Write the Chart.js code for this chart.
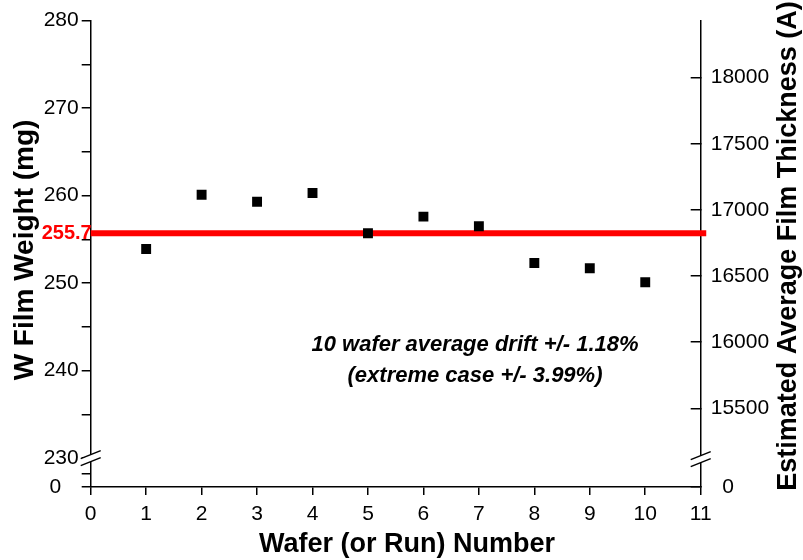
<!DOCTYPE html>
<html>
<head>
<meta charset="utf-8">
<script src="https://cdn.jsdelivr.net/npm/chart.js@4/dist/chart.umd.min.js"></script>
<style>
  html, body { margin: 0; padding: 0; background: #fff; }
  #wrap { width: 803px; height: 560px; position: relative; }
</style>
</head>
<body>
<div id="wrap"><canvas id="chart"></canvas></div>
<script>
// ---- data ----
const wafers = [1, 2, 3, 4, 5, 6, 7, 8, 9, 10];
const filmWeight = [253.9, 260.1, 259.3, 260.3, 255.7, 257.6, 256.5, 252.3, 251.7, 250.1];
const meanWeight = 255.7;
const xTicks = [0, 1, 2, 3, 4, 5, 6, 7, 8, 9, 10, 11];
const weightTicks = [230, 240, 250, 260, 270, 280];
const weightMinor = [228.2, 235, 245, 255, 265, 275];
const thicknessTicks = [15500, 16000, 16500, 17000, 17500, 18000];
const noteLines = ['10 wafer average drift +/- 1.18%', '(extreme case +/- 3.99%)'];
const notePos = { x: 6.93, y: [242.9, 239.4] };
// broken axes: the bottom of each y axis stands for 0
const weightRange = [226.7, 280];
const thicknessRange = [14905, 18431];
const rightTitle = 'Estimated Average Film Thickness (A)';

const FONT = "'Liberation Sans', Arial, Helvetica, sans-serif";
Chart.defaults.font.family = FONT;
Chart.defaults.color = '#000';

function drawBreak(ctx, cx, cy) {
  const dx = 10, dy = 4, gap = 3.5;
  ctx.save();
  ctx.fillStyle = '#fff';
  ctx.beginPath();
  ctx.moveTo(cx - dx, cy - gap + dy);
  ctx.lineTo(cx + dx, cy - gap - dy);
  ctx.lineTo(cx + dx, cy + gap - dy);
  ctx.lineTo(cx - dx, cy + gap + dy);
  ctx.closePath();
  ctx.fill();
  ctx.strokeStyle = '#000';
  ctx.lineWidth = 1.5;
  [-gap, gap].forEach(off => {
    ctx.beginPath();
    ctx.moveTo(cx - dx, cy + off + dy);
    ctx.lineTo(cx + dx, cy + off - dy);
    ctx.stroke();
  });
  ctx.restore();
}

const decor = {
  id: 'decor',
  afterDraw(chart) {
    const { ctx, chartArea, scales } = chart;
    const yb = scales.y.getPixelForValue(weightTicks[0]);
    drawBreak(ctx, chartArea.left, yb);
    drawBreak(ctx, chartArea.right, yb + 1);

    // mean label
    ctx.save();
    ctx.fillStyle = '#ff0000';
    ctx.font = 'bold 20px ' + FONT;
    ctx.textAlign = 'right';
    ctx.textBaseline = 'middle';
    ctx.fillText(meanWeight.toFixed(1), chartArea.left + 1, scales.y.getPixelForValue(meanWeight));

    // note
    ctx.fillStyle = '#000';
    ctx.font = 'italic bold 22px ' + FONT;
    ctx.textAlign = 'center';
    noteLines.forEach((t, i) => {
      ctx.fillText(t, scales.x.getPixelForValue(notePos.x), scales.y.getPixelForValue(notePos.y[i]));
    });

    // right axis title reads bottom to top, like the left one
    ctx.translate(789, 246);
    ctx.rotate(-Math.PI / 2);
    ctx.font = 'bold 27px ' + FONT;
    ctx.fillText(rightTitle, 0, 0);
    ctx.restore();
  }
};

const axisLine = { color: '#000', width: 1.5 };
const noPad = s => { s.paddingTop = 0; s.paddingBottom = 0; };

new Chart(document.getElementById('chart'), {
  type: 'scatter',
  data: {
    datasets: [
      {
        label: 'W film weight',
        data: wafers.map((w, i) => ({ x: w, y: filmWeight[i] })),
        pointStyle: 'rect',
        pointRadius: 7,
        pointHoverRadius: 7,
        backgroundColor: '#000',
        borderWidth: 0,
        yAxisID: 'y'
      },
      {
        type: 'line',
        label: 'mean',
        data: [{ x: xTicks[0], y: meanWeight }, { x: xTicks[xTicks.length - 1] + 0.1, y: meanWeight }],
        borderColor: '#ff0000',
        borderWidth: 6,
        pointRadius: 0,
        clip: false,
        yAxisID: 'y'
      }
    ]
  },
  options: {
    responsive: true,
    maintainAspectRatio: false,
    animation: false,
    layout: { padding: { top: 20.7, left: 0, right: 0, bottom: 0 } },
    plugins: { legend: { display: false }, tooltip: { enabled: false } },
    scales: {
      x: {
        type: 'linear',
        min: xTicks[0],
        max: xTicks[xTicks.length - 1],
        afterBuildTicks: s => { s.ticks = xTicks.map(v => ({ value: v })); },
        afterFit: s => { s.height = 73; },
        grid: { drawOnChartArea: false, tickLength: 8, color: '#000', lineWidth: 1.5 },
        border: axisLine,
        ticks: { font: { size: 21 }, padding: 7, autoSkip: false, maxRotation: 0 },
        title: {
          display: true,
          text: '   Wafer (or Run) Number',
          font: { size: 27, weight: 'bold', lineHeight: 1 },
          padding: { top: 0, bottom: 2 }
        }
      },
      y: {
        position: 'left',
        min: weightRange[0],
        max: weightRange[1],
        afterBuildTicks: s => {
          s.ticks = [weightRange[0], ...weightMinor, ...weightTicks].sort((a, b) => a - b).map(v => ({ value: v }));
        },
        afterFit: s => { s.width = 90.7; noPad(s); },
        grid: { drawOnChartArea: false, tickLength: 9, color: '#000', lineWidth: 1.5 },
        border: axisLine,
        ticks: {
          font: { size: 21 },
          padding: 3,
          autoSkip: false,
          callback: v => v === weightRange[0] ? '0   ' : (weightTicks.includes(v) ? String(v) : '')
        },
        title: {
          display: true,
          text: ' W Film Weight (mg)',
          font: { size: 28, weight: 'bold', lineHeight: 1 },
          padding: { top: 11, bottom: 0 }
        }
      },
      y2: {
        position: 'right',
        min: thicknessRange[0],
        max: thicknessRange[1],
        afterBuildTicks: s => {
          s.ticks = [thicknessRange[0], ...thicknessTicks].map(v => ({ value: v }));
        },
        afterFit: s => { s.width = 102.3; noPad(s); },
        grid: { drawOnChartArea: false, tickLength: -10, color: '#000', lineWidth: 1.5 },
        border: axisLine,
        ticks: {
          font: { size: 21 },
          padding: 20,
          autoSkip: false,
          callback: v => v === thicknessRange[0] ? '  0' : String(v)
        }
      }
    }
  },
  plugins: [decor]
});
</script>
</body>
</html>
